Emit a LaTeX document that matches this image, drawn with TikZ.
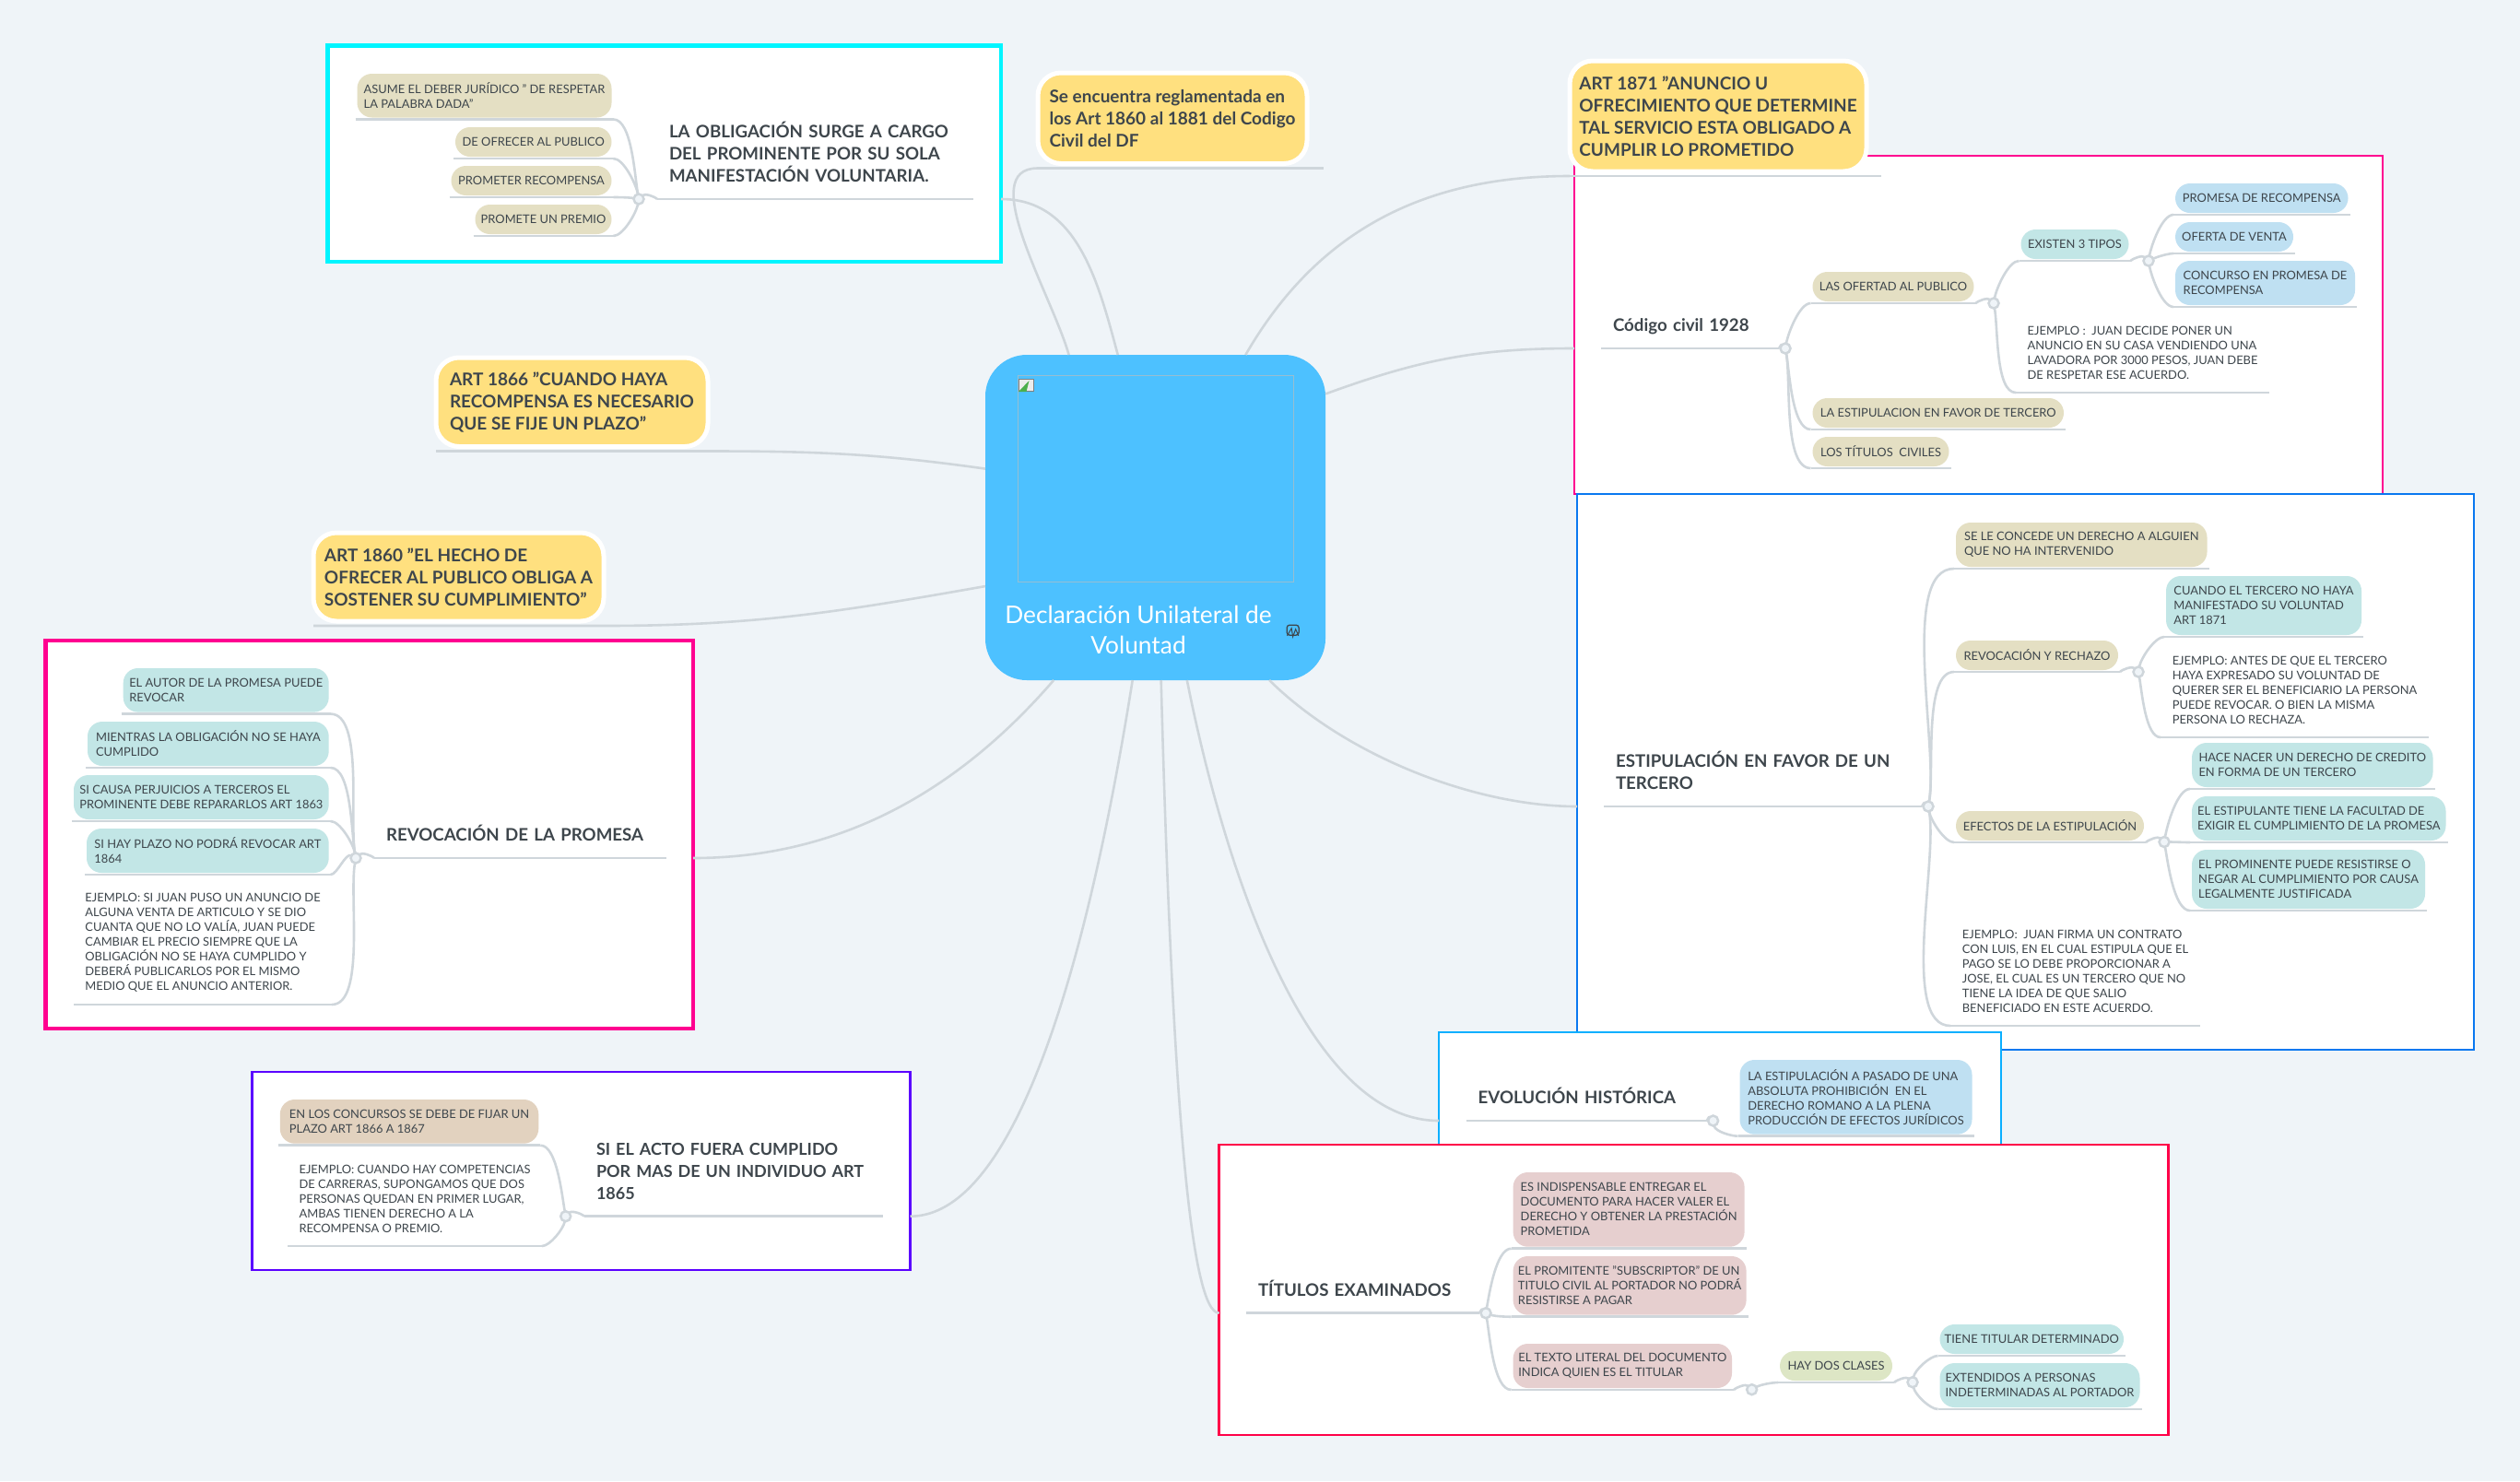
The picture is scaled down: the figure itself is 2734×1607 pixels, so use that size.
\documentclass[tikz,border=0pt]{standalone}
\usepackage{tikz}
\usepackage{xcolor}
\usepackage{fontspec}
\setmainfont{Lato}
\definecolor{paper}{RGB}{239,244,248}
\definecolor{skyhub}{RGB}{77,193,255}
\definecolor{wire}{RGB}{207,214,219}
\definecolor{ink}{RGB}{62,70,76}
\definecolor{honey}{RGB}{255,224,127}
\definecolor{sand}{RGB}{228,223,195}
\definecolor{teal}{RGB}{194,230,230}
\definecolor{sky}{RGB}{191,224,242}
\definecolor{rose}{RGB}{230,207,207}
\definecolor{tan}{RGB}{226,210,191}
\definecolor{lime}{RGB}{221,230,197}
\tikzset{wh/.style 2 args={minimum width=#1pt,minimum height=#2pt}}

\begin{document}
\begin{tikzpicture}[x=1pt,y=-1pt,looseness=.6]
  \tikzstyle{frame}=[rectangle,fill=white,anchor=north west,inner sep=0pt,outer sep=0pt]
  \tikzstyle{pill}=[rectangle,rounded corners=16pt,anchor=north west,xshift=-2pt,yshift=2pt,align=left,inner sep=0pt,outer sep=2pt,text=ink,font=\fontsize{12.9}{16}\selectfont]
  \tikzstyle{note}=[pill,rounded corners=0pt]
  \tikzstyle{gold}=[rectangle,rounded corners=25pt,anchor=north west,yshift=5pt,align=left,inner sep=0pt,outer ysep=5pt,outer xsep=0pt,fill=honey,draw=white,line width=5pt,text=ink,font=\fontsize{19}{24}\selectfont\bfseries]
  \tikzstyle{topic}=[rectangle,anchor=south west,align=left,inner xsep=13pt,inner ysep=18pt,outer sep=0pt,text=ink,font=\fontsize{18.7}{24}\selectfont\bfseries]
  \tikzstyle{knob}=[circle,fill=paper,draw=wire,line width=2.5pt,inner sep=0pt,minimum size=11pt,outer sep=0pt]
  \tikzstyle{branch}=[draw=wire,line width=2.6pt]
  \tikzstyle{rup}=[out=80,in=180]
  \tikzstyle{rdn}=[out=-80,in=180]
  \tikzstyle{lup}=[out=100,in=0]
  \tikzstyle{ldn}=[out=-100,in=0]

  \fill[paper] (0,0) rectangle (2734,1607);
  \useasboundingbox (0,0) rectangle (2734,1607);

  \node[frame,draw={rgb,255:red,0;green,245;blue,255},line width=4.5pt,wh={730.5}{234.5}] (boxCargo) at (355.5,49.5) {};
  \node[frame,draw={rgb,255:red,255;green,0;blue,144},line width=2.5pt,wh={877}{367}] (boxCodigo) at (1708,169) {};
  \node[frame,draw={rgb,255:red,10;green,120;blue,240},line width=2.5pt,wh={973}{603}] (boxTercero) at (1711,536) {};
  \node[frame,draw={rgb,255:red,10;green,175;blue,255},line width=2.5pt,wh={610}{130}] (boxHistoria) at (1561,1120) {};
  \node[frame,draw={rgb,255:red,255;green,0;blue,72},line width=2.5pt,wh={1030}{315}] (boxTitulos) at (1322.7,1242) {};
  \node[frame,draw={rgb,255:red,255;green,0;blue,144},line width=4.5pt,wh={702.5}{421}] (boxRevoca) at (49.5,695) {};
  \node[frame,draw={rgb,255:red,90;green,0;blue,255},line width=2.5pt,wh={714}{215}] (boxActo) at (273.5,1163) {};

  \node[rectangle,rounded corners=45pt,fill=skyhub,anchor=north west,inner sep=0pt,outer sep=0pt,wh={369}{353}] (hub) at (1069,385) {};
  \node[rectangle,draw={rgb,255:red,150;green,190;blue,210},line width=1pt,anchor=north west,inner sep=0pt,wh={299}{224}] (shot) at (1104,407) {};
  \node[text=white,align=center,font=\fontsize{26.3}{33}\selectfont] (title) at (1235,683.5) {Declaración Unilateral de\\Voluntad};
  \node[rectangle,fill=white!85!gray,draw=gray,line width=1pt,anchor=north west,inner sep=0pt,wh={16}{13}] (brokenIcon) at (1105,411) {};
  \fill[green!55!black!70!white] (brokenIcon.south west) -- (brokenIcon.south) -- ([xshift=3pt,yshift=5pt]brokenIcon.center) -- cycle;
  \node[rectangle,rounded corners=3pt,draw=ink,line width=1.3pt,anchor=north west,inner sep=0pt,wh={13}{11}] (picIcon) at (1395.5,677.5) {};
  \draw[ink,line width=1pt] ([xshift=1pt]picIcon.south west) -- ([xshift=-1.5pt,yshift=2pt]picIcon.center) -- ([yshift=-1pt]picIcon.south) -- ([xshift=3pt,yshift=1pt]picIcon.center) -- ([xshift=-1pt]picIcon.south east);

  \node[gold,wh={292}{98.5}] (reglamento) at (1126,79) {Se encuentra reglamentada en\\los Art 1860 al 1881 del Codigo\\Civil del DF};
  \node[gold,wh={322}{120}] (art1871) at (1703,66) {ART 1871 "ANUNCIO U\\OFRECIMIENTO QUE DETERMINE\\TAL SERVICIO ESTA OBLIGADO A\\CUMPLIR LO PROMETIDO};
  \node[gold,wh={295}{96.5}] (art1866) at (473,388) {ART 1866 "CUANDO HAYA\\RECOMPENSA ES NECESARIO\\QUE SE FIJE UN PLAZO"};
  \node[gold,wh={315}{96}] (art1860) at (340,578) {ART 1860 "EL HECHO DE\\OFRECER AL PUBLICO OBLIGA A\\SOSTENER SU CUMPLIMIENTO"};

  \node[topic,text width=316.5pt] (cargo) at (713,216) {LA OBLIGACIÓN SURGE A CARGO\\DEL PROMINENTE POR SU SOLA\\MANIFESTACIÓN VOLUNTARIA.};
  \node[knob] (kCargo) at (693,216) {};
  \node[pill,fill=sand,wh={276}{47.5}] (asume) at (387.5,80) {ASUME EL DEBER JURÍDICO " DE RESPETAR\\LA PALABRA DADA"};
  \node[pill,fill=sand,wh={169.5}{32}] (ofrecer) at (494,138) {DE OFRECER AL PUBLICO};
  \node[pill,fill=sand,wh={174}{32}] (prometer) at (489.5,180) {PROMETER RECOMPENSA};
  \node[pill,fill=sand,wh={148}{32}] (premio) at (515.5,222) {PROMETE UN PREMIO};

  \node[topic,text width=167pt,inner ysep=15pt] (codigo) at (1737,378) {Código civil 1928};
  \node[knob] (kCodigo) at (1937,378) {};
  \node[pill,fill=sand,wh={175}{32}] (oferta) at (1966.5,295) {LAS OFERTAD AL PUBLICO};
  \node[knob] (kOferta) at (2163,329) {};
  \node[pill,fill=teal,wh={117}{32}] (tipos) at (2192.5,249) {EXISTEN 3 TIPOS};
  \node[knob] (kTipos) at (2331,283) {};
  \node[pill,fill=sky,wh={187.5}{32}] (promesa) at (2360,199) {PROMESA DE RECOMPENSA};
  \node[pill,fill=sky,wh={128}{32}] (venta) at (2360,241) {OFERTA DE VENTA};
  \node[pill,fill=sky,wh={195}{48}] (concurso) at (2360,283) {CONCURSO EN PROMESA DE\\RECOMPENSA};
  \node[note,wh={271}{83}] (lavadora) at (2189,341) {EJEMPLO :~~JUAN DECIDE PONER UN\\ANUNCIO EN SU CASA VENDIENDO UNA\\LAVADORA POR 3000 PESOS, JUAN DEBE\\DE RESPETAR ESE ACUERDO.};
  \node[pill,fill=sand,wh={272.5}{32}] (favor) at (1966.5,432) {LA ESTIPULACION EN FAVOR DE TERCERO};
  \node[pill,fill=sand,wh={148}{32}] (civiles) at (1966.5,474) {LOS TÍTULOS~~CIVILES};

  \node[topic,text width=319pt] (tercero) at (1740,875) {ESTIPULACIÓN EN FAVOR DE UN\\TERCERO};
  \node[knob] (kTercero) at (2092,875) {};
  \node[pill,fill=sand,wh={272.5}{48}] (concede) at (2122,567) {SE LE CONCEDE UN DERECHO A ALGUIEN\\QUE NO HA INTERVENIDO};
  \node[pill,fill=sand,wh={176}{32}] (rechazo) at (2122,695) {REVOCACIÓN Y RECHAZO};
  \node[knob] (kRechazo) at (2320,729) {};
  \node[pill,fill=teal,wh={212}{64}] (cuando) at (2350,625) {CUANDO EL TERCERO NO HAYA\\MANIFESTADO SU VOLUNTAD\\ART 1871};
  \node[note,wh={287}{99}] (antes) at (2346,699) {EJEMPLO: ANTES DE QUE EL TERCERO\\HAYA EXPRESADO SU VOLUNTAD DE\\QUERER SER EL BENEFICIARIO LA PERSONA\\PUEDE REVOCAR. O BIEN LA MISMA\\PERSONA LO RECHAZA.};
  \node[pill,fill=sand,wh={204}{32}] (efectos) at (2122,880) {EFECTOS DE LA ESTIPULACIÓN};
  \node[knob] (kEfectos) at (2348,913.5) {};
  \node[pill,fill=teal,wh={261.5}{48}] (credito) at (2378,806) {HACE NACER UN DERECHO DE CREDITO\\EN FORMA DE UN TERCERO};
  \node[pill,fill=teal,wh={275.5}{48}] (facultad) at (2378,864) {EL ESTIPULANTE TIENE LA FACULTAD DE\\EXIGIR EL CUMPLIMIENTO DE LA PROMESA};
  \node[pill,fill=teal,wh={253}{64}] (negar) at (2378,922) {EL PROMINENTE PUEDE RESISTIRSE O\\NEGAR AL CUMPLIMIENTO POR CAUSA\\LEGALMENTE JUSTIFICADA};
  \node[note,wh={267}{115}] (contrato) at (2118,996) {EJEMPLO:~~JUAN FIRMA UN CONTRATO\\CON LUIS, EN EL CUAL ESTIPULA QUE EL\\PAGO SE LO DEBE PROPORCIONAR A\\JOSE, EL CUAL ES UN TERCERO QUE NO\\TIENE LA IDEA DE QUE SALIO\\BENEFICIADO EN ESTE ACUERDO.};

  \node[topic,text width=235pt] (historia) at (1590.7,1216) {EVOLUCIÓN HISTÓRICA};
  \node[knob] (kHistoria) at (1858.6,1216) {};
  \node[pill,fill=sky,wh={252}{80.7}] (romano) at (1887.5,1150) {LA ESTIPULACIÓN A PASADO DE UNA\\ABSOLUTA PROHIBICIÓN~~EN EL\\DERECHO ROMANO A LA PLENA\\PRODUCCIÓN DE EFECTOS JURÍDICOS};

  \node[topic,text width=227pt] (titulos) at (1352,1424.7) {TÍTULOS EXAMINADOS};
  \node[knob] (kTitulos) at (1612,1424.7) {};
  \node[pill,fill=rose,wh={251}{80.7}] (entregar) at (1641.6,1272) {ES INDISPENSABLE ENTREGAR EL\\DOCUMENTO PARA HACER VALER EL\\DERECHO Y OBTENER LA PRESTACIÓN\\PROMETIDA};
  \node[pill,fill=rose,wh={253}{63.7}] (portador) at (1641.6,1363) {EL PROMITENTE "SUBSCRIPTOR" DE UN\\TITULO CIVIL AL PORTADOR NO PODRÁ\\RESISTIRSE A PAGAR};
  \node[pill,fill=rose,wh={237.4}{48}] (literal) at (1641.6,1458) {EL TEXTO LITERAL DEL DOCUMENTO\\INDICA QUIEN ES EL TITULAR};
  \node[knob] (kLiteral) at (1900.6,1507.7) {};
  \node[pill,fill=lime,wh={122}{32}] (clases) at (1931,1466) {HAY DOS CLASES};
  \node[knob] (kClases) at (2075,1499.7) {};
  \node[pill,fill=teal,wh={199.5}{32}] (titular) at (2104.5,1437) {TIENE TITULAR DETERMINADO};
  \node[pill,fill=teal,wh={217}{48}] (extendidos) at (2104.5,1479) {EXTENDIDOS A PERSONAS\\INDETERMINADAS AL PORTADOR};

  \node[topic,text width=291pt] (revoca) at (406,931) {REVOCACIÓN DE LA PROMESA};
  \node[knob] (kRevoca) at (386,931) {};
  \node[pill,fill=teal,wh={223}{47.6}] (autor) at (133.7,725) {EL AUTOR DE LA PROMESA PUEDE\\REVOCAR};
  \node[pill,fill=teal,wh={261.7}{48}] (mientras) at (95,783) {MIENTRAS LA OBLIGACIÓN NO SE HAYA\\CUMPLIDO};
  \node[pill,fill=teal,wh={276.7}{48}] (perjuicio) at (80,841) {SI CAUSA PERJUICIOS A TERCEROS EL\\PROMINENTE DEBE REPARARLOS ART 1863};
  \node[pill,fill=teal,wh={262.7}{48}] (plazo) at (94,899) {SI HAY PLAZO NO PODRÁ REVOCAR ART\\1864};
  \node[note,wh={276}{131}] (anuncio) at (82,957) {EJEMPLO: SI JUAN PUSO UN ANUNCIO DE\\ALGUNA VENTA DE ARTICULO Y SE DIO\\CUANTA QUE NO LO VALÍA, JUAN PUEDE\\CAMBIAR EL PRECIO SIEMPRE QUE LA\\OBLIGACIÓN NO SE HAYA CUMPLIDO Y\\DEBERÁ PUBLICARLOS POR EL MISMO\\MEDIO QUE EL ANUNCIO ANTERIOR.};

  \node[topic,text width=298pt,font=\fontsize{18}{24}\selectfont\bfseries] (acto) at (634,1319.7) {SI EL ACTO FUERA CUMPLIDO\\POR MAS DE UN INDIVIDUO ART\\1865};
  \node[knob] (kActo) at (613.7,1319.7) {};
  \node[pill,fill=tan,wh={280.5}{47.7}] (concursos) at (303.8,1193) {EN LOS CONCURSOS SE DEBE DE FIJAR UN\\PLAZO ART 1866 A 1867};
  \node[note,wh={272}{98}] (carreras) at (314,1252) {EJEMPLO: CUANDO HAY COMPETENCIAS\\DE CARRERAS, SUPONGAMOS QUE DOS\\PERSONAS QUEDAN EN PRIMER LUGAR,\\AMBAS TIENEN DERECHO A LA\\RECOMPENSA O PREMIO.};

  \foreach \n in {cargo,asume,ofrecer,prometer,premio,codigo,oferta,tipos,promesa,venta,concurso,lavadora,favor,civiles,tercero,concede,rechazo,cuando,antes,efectos,credito,facultad,negar,contrato,historia,romano,titulos,entregar,portador,literal,clases,titular,extendidos,revoca,autor,mientras,perjuicio,plazo,anuncio,acto,concursos,carreras}
    \draw[branch] (\n.south west) -- (\n.south east);

  \path[branch] (kCargo) edge (cargo.south west)
                         edge[lup] (asume.south east)
                         edge[lup] (ofrecer.south east)
                         edge[out=170,in=0] (prometer.south east)
                         edge[ldn] (premio.south east);
  \path[branch] (codigo.south east) edge (kCodigo);
  \path[branch] (kCodigo) edge[rup] (oferta.south west)
                          edge[rdn] (favor.south west)
                          edge[rdn] (civiles.south west);
  \path[branch] (oferta.south east) edge (kOferta);
  \path[branch] (kOferta) edge[rup] (tipos.south west)
                          edge[rdn] (lavadora.south west);
  \path[branch] (tipos.south east) edge (kTipos);
  \path[branch] (kTipos) edge[rup] (promesa.south west)
                         edge[out=25,in=180] (venta.south west)
                         edge[rdn] (concurso.south west);
  \path[branch] (tercero.south east) edge (kTercero);
  \path[branch] (kTercero) edge[rup] (concede.south west)
                           edge[rup] (rechazo.south west)
                           edge[rdn] (efectos.south west)
                           edge[rdn] (contrato.south west);
  \path[branch] (rechazo.south east) edge (kRechazo);
  \path[branch] (kRechazo) edge[rup] (cuando.south west)
                           edge[rdn] (antes.south west);
  \path[branch] (efectos.south east) edge (kEfectos);
  \path[branch] (kEfectos) edge[rup] (credito.south west)
                           edge[out=0,in=180] (facultad.south west)
                           edge[rdn] (negar.south west);
  \path[branch] (historia.south east) edge (kHistoria);
  \path[branch] (kHistoria) edge[rdn] (romano.south west);
  \path[branch] (titulos.south east) edge (kTitulos);
  \path[branch] (kTitulos) edge[rup] (entregar.south west)
                           edge[out=-20,in=180] (portador.south west)
                           edge[rdn] (literal.south west);
  \path[branch] (literal.south east) edge (kLiteral);
  \path[branch] (kLiteral) edge[out=30,in=180] (clases.south west);
  \path[branch] (clases.south east) edge (kClases);
  \path[branch] (kClases) edge[rup] (titular.south west)
                          edge[rdn] (extendidos.south west);
  \path[branch] (kRevoca) edge (revoca.south west)
                          edge[lup] (autor.south east)
                          edge[lup] (mientras.south east)
                          edge[lup] (perjuicio.south east)
                          edge[out=150,in=0] (plazo.south east)
                          edge[ldn] (anuncio.south east);
  \path[branch] (kActo) edge (acto.south west)
                        edge[lup] (concursos.south east)
                        edge[ldn] (carreras.south east);

  \draw[branch] (reglamento.south west) -- ([xshift=18pt]reglamento.south east);
  \draw[branch] (art1871.south west) -- ([xshift=16pt]art1871.south east);
  \draw[branch] (art1866.south west) -- (art1866.south east) to[out=0,in=172,looseness=1] (hub.164);
  \draw[branch] (art1860.south west) -- (art1860.south east) to[out=0,in=190,looseness=1] (hub.202);

  \path[branch] (hub.118) edge[out=106,in=180,looseness=.85] (reglamento.south west)
                (hub.103) edge[out=105,in=0,looseness=1] (cargo.south east -| boxCargo.east)
                (hub.61) edge[out=60,in=180,looseness=1] (art1871.south west)
                (hub.36) edge[out=20,in=180,looseness=1] (codigo.south west -| boxCodigo.west);
  \draw[branch] (hub.238) .. controls (1055,840) and (930,931) .. (revoca.south east -| boxRevoca.east);
  \draw[branch] (hub.262) .. controls (1195,950) and (1120,1319.7) .. (acto.south east -| boxActo.east);
  \draw[branch] (hub.272) .. controls (1272,1200) and (1292,1424.7) .. (titulos.south west -| boxTitulos.west);
  \draw[branch] (hub.281) .. controls (1330,950) and (1420,1216) .. (historia.south west -| boxHistoria.west);
  \draw[branch] (hub.305) .. controls (1460,820) and (1600,875) .. (tercero.south west -| boxTercero.west);
\end{tikzpicture}
\end{document}
